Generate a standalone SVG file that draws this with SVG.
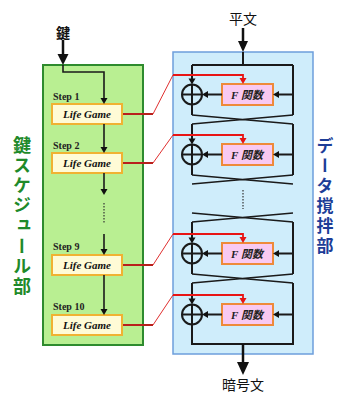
<svg xmlns="http://www.w3.org/2000/svg" width="339" height="394" viewBox="0 0 339 394">
<defs>
<style>
.lbl{font-family:"Noto Sans CJK JP","Noto Sans CJK SC",sans-serif;font-weight:bold;font-size:18px;writing-mode:vertical-rl;text-orientation:upright}
.lbr{font-size:17px}
.top{font-family:"Noto Sans CJK JP",sans-serif;font-size:14px;text-anchor:middle;fill:#111}
.step{font-family:"Liberation Serif",serif;font-weight:bold;font-size:10px;fill:#222}
.lg{fill:#fffbd6;stroke:#f0b232;stroke-width:2}
.lgt{font-family:"Liberation Serif",serif;font-style:italic;font-weight:bold;font-size:11px;text-anchor:middle;fill:#111}
.fb{fill:#f9c9f1;stroke:#ee8a3a;stroke-width:2}
.ft{font-family:"Liberation Serif","Noto Sans CJK JP",serif;font-style:italic;font-weight:bold;font-size:11px;text-anchor:middle;fill:#222}
.ln{fill:none;stroke:#1a1a1a;stroke-width:2}
.thin{fill:none;stroke:#1a1a1a;stroke-width:1.6}
.red{fill:none;stroke:#e81414;stroke-width:1.8}
.rdark{fill:none;stroke:#b8201c;stroke-width:2}
.rdiag{fill:none;stroke:#e03030;stroke-width:1}
.ah{fill:#111}
.rah{fill:#e81414}
</style>
</defs>

<g id="key-schedule">
<rect x="43" y="65" width="100" height="280" fill="#b9ef92" stroke="#2e8b2e" stroke-width="2"/>
<g fill="#1f8a2a">
<text class="lbl" x="22" y="136">鍵</text>
<text class="lbl" x="22" y="156">ス</text>
<text class="lbl" x="22" y="176">ケ</text>
<text class="lbl" x="22" y="196">ジ</text>
<text class="lbl" x="22" y="216">ュ</text>
<text class="lbl" x="22" y="237">ー</text>
<text class="lbl" x="22" y="257">ル</text>
<text class="lbl" x="22" y="277">部</text>
</g>
</g>

<g id="data-mixing">
<rect x="173" y="52" width="140" height="302" fill="#cfedfb" stroke="#6d9edc" stroke-width="1.5"/>
<g fill="#1c3d97">
<text class="lbl lbr" x="325" y="137">デ</text>
<text class="lbl lbr" x="325" y="157">ー</text>
<text class="lbl lbr" x="325" y="177">タ</text>
<text class="lbl lbr" x="325" y="197">撹</text>
<text class="lbl lbr" x="325" y="217">拌</text>
<text class="lbl lbr" x="325" y="237">部</text>
</g>
</g>

<g id="key-input">
<text class="top" x="63" y="38" font-weight="bold">鍵</text>
</g>
<g id="plaintext">
<text class="top" x="243" y="24">平文</text>
</g>
<g id="ciphertext">
<text class="top" x="243" y="390" font-size="13">暗号文</text>
</g>

<g id="step1">
<text class="step" x="53" y="100">Step 1</text>
<rect class="lg" x="52" y="104" width="70" height="20"/>
<text class="lgt" x="87" y="118">Life Game</text>
</g>
<g id="step2">
<text class="step" x="53" y="149">Step 2</text>
<rect class="lg" x="52" y="153" width="70" height="20"/>
<text class="lgt" x="87" y="167">Life Game</text>
</g>
<g id="step9">
<text class="step" x="53" y="250">Step 9</text>
<rect class="lg" x="52" y="255" width="70" height="20"/>
<text class="lgt" x="87" y="269">Life Game</text>
</g>
<g id="step10">
<text class="step" x="53" y="310">Step 10</text>
<rect class="lg" x="52" y="315" width="70" height="20"/>
<text class="lgt" x="87" y="329">Life Game</text>
</g>

<g id="f1"><rect class="fb" x="222" y="84" width="51" height="21"/><text class="ft" x="247" y="98.5">F 関数</text></g>
<g id="f2"><rect class="fb" x="222" y="144" width="51" height="21"/><text class="ft" x="247" y="158.5">F 関数</text></g>
<g id="f3"><rect class="fb" x="222" y="243" width="51" height="21"/><text class="ft" x="247" y="257.5">F 関数</text></g>
<g id="f4"><rect class="fb" x="222" y="304" width="51" height="21"/><text class="ft" x="247" y="318.5">F 関数</text></g>

<g id="xor1"><circle class="ln" cx="192" cy="94.5" r="10"/><path class="ln" d="M182 94.5H202M192 84.5V104.5"/></g>
<g id="xor2"><circle class="ln" cx="192" cy="154.5" r="10"/><path class="ln" d="M182 154.5H202M192 144.5V164.5"/></g>
<g id="xor3"><circle class="ln" cx="192" cy="253.5" r="10"/><path class="ln" d="M182 253.5H202M192 243.5V263.5"/></g>
<g id="xor4"><circle class="ln" cx="192" cy="314.5" r="10"/><path class="ln" d="M182 314.5H202M192 304.5V324.5"/></g>

<g id="connectors">
<path d="M63 40V56" stroke="#111" stroke-width="2.5"/>
<polygon class="ah" points="57.5,54 68.5,54 63,65"/>
<path class="thin" d="M63 65V72H104V99"/>
<polygon class="ah" points="100.5,98 107.5,98 104,104"/>
<path class="thin" d="M104 124V148"/>
<polygon class="ah" points="100.5,147 107.5,147 104,153"/>
<path class="thin" d="M104 173V190"/>
<polygon class="ah" points="100.5,189 107.5,189 104,195"/>
<path d="M104 203V224" stroke="#333" stroke-width="1.2" stroke-dasharray="1.5,1.5"/>
<path class="thin" d="M104 234V250"/>
<polygon class="ah" points="100.5,249 107.5,249 104,255"/>
<path class="thin" d="M104 275V310"/>
<polygon class="ah" points="100.5,309 107.5,309 104,315"/>

<path d="M243 28V43" stroke="#111" stroke-width="2.5"/>
<polygon class="ah" points="238,41 248,41 243,52"/>
<path class="ln" d="M243 52V65M192 65H293"/>

<path class="ln" d="M192 65V79M192 104.5V115M293 65V115"/>
<polygon class="ah" points="188.5,78.5 195.5,78.5 192,84.5"/>
<path class="ln" d="M293 94.5H279M222 94.5H208"/>
<polygon class="ah" points="279,91 279,98 273,94.5"/>
<polygon class="ah" points="208,91 208,98 202,94.5"/>
<path class="thin" d="M192 115L293 124M293 115L192 124"/>

<path class="ln" d="M192 124V139M192 164.5V175M293 124V175"/>
<polygon class="ah" points="188.5,138.5 195.5,138.5 192,144.5"/>
<path class="ln" d="M293 154.5H279M222 154.5H208"/>
<polygon class="ah" points="279,151 279,158 273,154.5"/>
<polygon class="ah" points="208,151 208,158 202,154.5"/>
<path class="thin" d="M192 175L293 184M293 175L192 184"/>
<path d="M243 190V209" stroke="#333" stroke-width="1.2" stroke-dasharray="1.5,1.5"/>

<path class="thin" d="M192 213L293 222M293 213L192 222"/>
<path class="ln" d="M192 222V238M192 263.5V274M293 222V274"/>
<polygon class="ah" points="188.5,237.5 195.5,237.5 192,243.5"/>
<path class="ln" d="M293 253.5H279M222 253.5H208"/>
<polygon class="ah" points="279,250 279,257 273,253.5"/>
<polygon class="ah" points="208,250 208,257 202,253.5"/>
<path class="thin" d="M192 274L293 283M293 274L192 283"/>

<path class="ln" d="M192 283V299M192 324.5V344M293 283V344M191 344H294"/>
<polygon class="ah" points="188.5,298.5 195.5,298.5 192,304.5"/>
<path class="ln" d="M293 314.5H279M222 314.5H208"/>
<polygon class="ah" points="279,311 279,318 273,314.5"/>
<polygon class="ah" points="208,311 208,318 202,314.5"/>

<path d="M243 344V364" stroke="#111" stroke-width="2.5"/>
<polygon class="ah" points="237,362 249,362 243,375"/>

<path class="rdark" d="M123 114H153"/>
<path class="rdiag" d="M153 114L173 75"/>
<path class="red" d="M173 75H243V79"/>
<polygon class="rah" points="239.5,78 246.5,78 243,84"/>

<path class="rdark" d="M123 163H153"/>
<path class="rdiag" d="M153 163L173 135"/>
<path class="red" d="M173 135H243V139"/>
<polygon class="rah" points="239.5,138 246.5,138 243,144"/>

<path class="rdark" d="M123 265H153"/>
<path class="rdiag" d="M153 265L173 234"/>
<path class="red" d="M173 234H243V238"/>
<polygon class="rah" points="239.5,237 246.5,237 243,243"/>

<path class="rdark" d="M123 325H153"/>
<path class="rdiag" d="M153 325L173 295"/>
<path class="red" d="M173 295H243V299"/>
<polygon class="rah" points="239.5,298 246.5,298 243,304"/>
</g>
</svg>
